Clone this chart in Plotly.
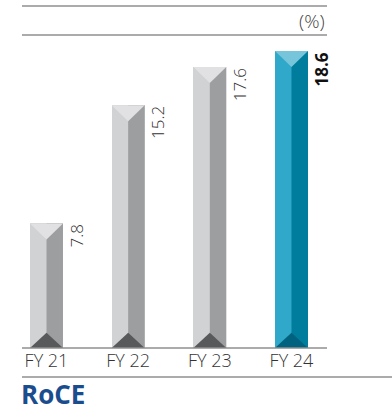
import plotly.graph_objects as go

categories = ["FY 21", "FY 22", "FY 23", "FY 24"]
values = [7.8, 15.2, 17.6, 18.6]
value_labels = ["7.8", "15.2", "17.6", "18.6"]
highlight = [False, False, False, True]

GRAY = dict(left="#d1d2d4", right="#9d9ea0", top="#e1e1e3", bottom="#58595b")
BLUE = dict(left="#2fa8c9", right="#007d9c", top="#76c5da", bottom="#00627f")

xpos = list(range(len(categories)))
BW = 0.404
D = 1.0  # bevel depth in value units

fig = go.Figure()
fig.add_trace(go.Bar(
    x=xpos, y=values, width=BW,
    marker=dict(color=[(BLUE if h else GRAY)["left"] for h in highlight], line=dict(width=0)),
    hoverinfo="skip", showlegend=False,
))

shapes = []
for xi, v, h in zip(xpos, values, highlight):
    c = BLUE if h else GRAY
    x0, x1, xc = xi - BW / 2, xi + BW / 2, xi
    shapes.append(dict(type="path", xref="x", yref="y", layer="above",
                       path=f"M{xc},0 L{x1},0 L{x1},{v} L{xc},{v} Z",
                       fillcolor=c["right"], line=dict(width=0)))
    shapes.append(dict(type="path", xref="x", yref="y", layer="above",
                       path=f"M{x0},{v} L{x1},{v} L{xc},{v - D} Z",
                       fillcolor=c["top"], line=dict(width=0)))
    shapes.append(dict(type="path", xref="x", yref="y", layer="above",
                       path=f"M{x0},0 L{x1},0 L{xc},{D * 0.95} Z",
                       fillcolor=c["bottom"], line=dict(width=0)))

LINE = "#8f8f8f"
shapes += [
    dict(type="line", xref="paper", yref="paper", x0=0, x1=1, y0=1.0927, y1=1.0927,
         line=dict(color=LINE, width=1.5)),
    dict(type="line", xref="paper", yref="paper", x0=0, x1=1, y0=1, y1=1,
         line=dict(color=LINE, width=1.5)),
    dict(type="line", xref="paper", yref="paper", x0=0, x1=1, y0=0, y1=0,
         line=dict(color=LINE, width=1.5)),
    dict(type="line", xref="paper", yref="paper", x0=0, x1=1.22, y0=-0.0927, y1=-0.0927,
         line=dict(color=LINE, width=1.5)),
]

annotations = []
for xi, v, lab, h in zip(xpos, values, value_labels, highlight):
    annotations.append(dict(
        x=xi + BW / 2, y=v, xref="x", yref="y", text=f"<b>{lab}</b>" if h else lab,
        textangle=-90, showarrow=False, xanchor="left", yanchor="top", xshift=0, yshift=1,
        font=dict(family="Open Sans", size=17, color="#111" if h else "#333",
                  weight=700 if h else 300),
    ))
annotations.append(dict(x=1, y=1.0447, xref="paper", yref="paper", text="(%)",
                        showarrow=False, xanchor="right", yanchor="middle",
                        font=dict(family="Open Sans", size=19, color="#444", weight=300)))
annotations.append(dict(x=0, y=-0.148, xref="paper", yref="paper", text="<b>RoCE</b>",
                        showarrow=False, xanchor="left", yanchor="middle", xshift=-2,
                        borderpad=0,
                        font=dict(family="Open Sans", size=26, color="#1b4d8e")))

fig.update_layout(
    width=392, height=411,
    margin=dict(l=22, r=65, t=35, b=63),
    paper_bgcolor="white", plot_bgcolor="white",
    shapes=shapes, annotations=annotations,
    xaxis=dict(range=[-0.30, 3.435], tickvals=xpos, ticktext=categories,
               showgrid=False, zeroline=False, showline=False, ticks="",
               tickfont=dict(family="Open Sans", size=18, color="#333", weight=300)),
    yaxis=dict(range=[0, 19.6], visible=False, showgrid=False, zeroline=False),
    bargap=0,
)

fig.write_html("out.html")
